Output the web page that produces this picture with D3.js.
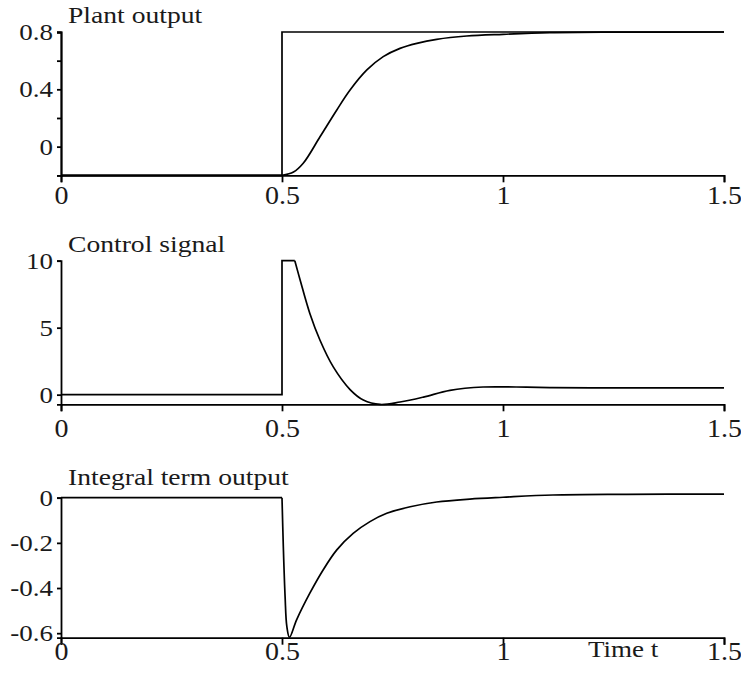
<!DOCTYPE html>
<html>
<head>
<meta charset="utf-8">
<script src="https://cdn.jsdelivr.net/npm/d3@7"></script>
<style>
body { margin: 0; background: #fff; }
text { font-family: "Liberation Serif", "Times New Roman", serif; fill: #1a1a1a; }
</style>
</head>
<body>
<script>
// Time axis
var xTicks = [0, 0.5, 1, 1.5];
var xTickLabels = ["0", "0.5", "1", "1.5"];

// Plant output: reference step and response
var refT = [0, 0.5, 0.5, 1.5];
var refY = [-0.2, -0.2, 0.8, 0.8];
var plantT = [0, 0.5, 0.526, 0.548, 0.586, 0.624, 0.654, 0.692, 0.729, 0.767, 0.805, 0.85, 0.918, 1.0, 1.106, 1.25, 1.5];
var plantY = [-0.2, -0.2, -0.177, -0.116, 0.069, 0.256, 0.395, 0.535, 0.628, 0.686, 0.721, 0.749, 0.772, 0.784, 0.795, 0.799, 0.8];
var plantTicks = [0, 0.4, 0.8];
var plantTickLabels = ["0", "0.4", "0.8"];
var plantMinor = [0.2, 0.6];

// Control signal (saturates at 10)
var ctrlT = [0, 0.5, 0.5, 0.529, 0.541, 0.563, 0.586, 0.616, 0.654, 0.684, 0.722, 0.767, 0.82, 0.88, 0.955, 1.03, 1.106, 1.2, 1.35, 1.5];
var ctrlY = [0, 0, 10, 10, 8.56, 6.06, 4.06, 2.07, 0.38, -0.4, -0.73, -0.55, -0.18, 0.32, 0.57, 0.57, 0.53, 0.51, 0.5, 0.5];
var ctrlTicks = [0, 5, 10];
var ctrlTickLabels = ["0", "5", "10"];

// Integral term output
var intT = [0, 0.5, 0.503, 0.507, 0.511, 0.517, 0.533, 0.563, 0.593, 0.624, 0.661, 0.699, 0.737, 0.79, 0.85, 0.925, 1.0, 1.113, 1.28, 1.5];
var intY = [0, 0, -0.217, -0.438, -0.571, -0.618, -0.541, -0.423, -0.32, -0.231, -0.158, -0.106, -0.069, -0.04, -0.019, -0.006, 0.002, 0.012, 0.015, 0.016];
var intTicks = [0, -0.2, -0.4, -0.6];
var intTickLabels = ["0", "-0.2", "-0.4", "-0.6"];

var w = 741, h = 675;
var stretch = 1.15;

var svg = d3.select("body").
append("svg").
attr("width", w).
attr("height", h);

var x = d3.scaleLinear().domain([0, 1.5]).range([61, 724]);

function zip(t, v) {
	return t.map(function (d, i) {return [d, v[i]];});
}

// one panel: axes, title, lines
function panel(p) {
	var y = d3.scaleLinear().domain(p.domain).range(p.range);
	var g = svg.append("g");
	var axisY = p.range[0];

	var xAxis = d3.axisBottom(x).
	tickValues(xTicks).
	tickFormat(function (d, i) {return xTickLabels[i];}).
	tickSizeOuter(0).
	tickSize(7);

	var gx = g.append("g").
	attr("transform", "translate(0," + axisY + ")").
	call(xAxis);
	gx.selectAll("text").
	attr("y", 0).
	attr("dy", null).
	attr("transform", "translate(0," + p.xLabelOffset + ") scale(1.12,1)").
	style("font-size", "25px");

	var yAxis = d3.axisLeft(y).
	tickValues(p.ticks).
	tickFormat(function (d, i) {return p.tickLabels[i];}).
	tickSizeOuter(0).
	tickSize(4);

	var gy = g.append("g").
	attr("transform", "translate(" + x(0) + ",0)").
	call(yAxis);
	gy.selectAll("text").
	attr("x", 0).
	attr("transform", "translate(-8,0) scale(" + stretch + ",1)").
	style("font-size", "23.5px");

	if (p.minor) {
		g.append("g").
		attr("transform", "translate(" + x(0) + ",0)").
		call(d3.axisLeft(y).tickValues(p.minor).tickFormat("").tickSizeOuter(0).tickSize(4));
	}

	g.selectAll(".domain, .tick line").
	attr("stroke", "#000").
	attr("stroke-width", 1.8);

	g.append("text").
	attr("transform", "translate(68," + p.titleY + ") scale(" + stretch + ",1)").
	style("font-size", "24px").
	text(p.title);

	var lin = d3.line().x(function (d) {return x(d[0]);}).y(function (d) {return y(d[1]);});
	var smooth = d3.line().curve(d3.curveCatmullRom.alpha(0.5)).x(function (d) {return x(d[0]);}).y(function (d) {return y(d[1]);});

	p.series.forEach(function (s) {
		var pts = zip(s.t, s.v);
		var k = s.knee || 0;
		if (k > 0) {
			g.append("path").
			attr("d", lin(pts.slice(0, k + 1))).
			attr("fill", "none").
			attr("stroke", "#000").
			attr("stroke-width", 1.7);
		}
		g.append("path").
		attr("d", s.linear ? lin(pts) : smooth(pts.slice(k))).
		attr("fill", "none").
		attr("stroke", "#000").
		attr("stroke-width", 1.7);
	});
	return g;
}

panel({
	title: "Plant output", titleY: 23,
	domain: [-0.2, 0.8], range: [175.3, 32],
	ticks: plantTicks, tickLabels: plantTickLabels, minor: plantMinor,
	xLabelOffset: 29,
	series: [{t: refT, v: refY, linear: true}, {t: plantT, v: plantY, knee: 1}]
});

panel({
	title: "Control signal", titleY: 252,
	domain: [-0.72, 10], range: [404.3, 260.7],
	ticks: ctrlTicks, tickLabels: ctrlTickLabels,
	xLabelOffset: 33,
	series: [{t: ctrlT, v: ctrlY, knee: 3}]
});

panel({
	title: "Integral term output", titleY: 485,
	domain: [-0.62, 0], range: [637.7, 497.7],
	ticks: intTicks, tickLabels: intTickLabels,
	xLabelOffset: 22.5,
	series: [{t: intT, v: intY, knee: 1}]
});

// axis title
svg.append("text").
attr("transform", "translate(588,657) scale(" + stretch + ",1)").
style("font-size", "23.5px").
text("Time t");
</script>
</body>
</html>
